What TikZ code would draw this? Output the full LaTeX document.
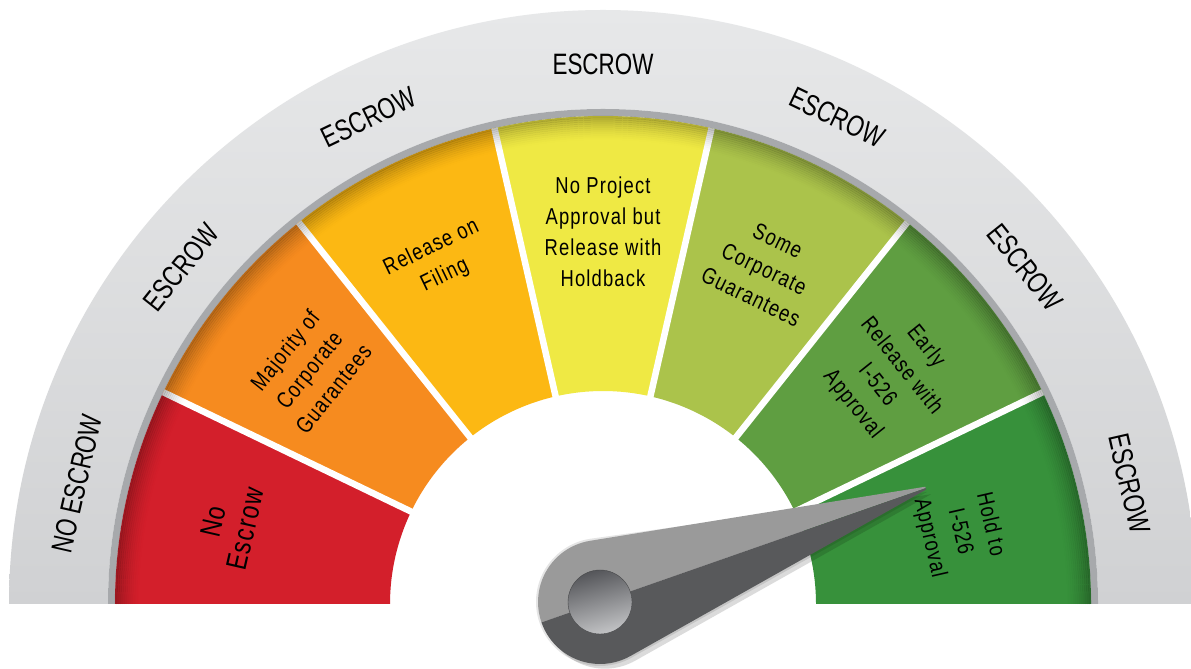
\documentclass[tikz,border=0pt]{standalone}
\usepackage{fontspec}
\setmainfont{Liberation Sans}
\newfontfamily\escfont{Liberation Sans}[FakeStretch=0.76]
\newfontfamily\segfont{Liberation Sans}[FakeStretch=0.8,LetterSpace=5]
\definecolor{cred}{HTML}{D31F2B}
\definecolor{corange}{HTML}{F68B1F}
\definecolor{cyorange}{HTML}{FCB813}
\definecolor{cyellow}{HTML}{EFE944}
\definecolor{clime}{HTML}{ABC34B}
\definecolor{cgreen}{HTML}{5F9E41}
\definecolor{cdgreen}{HTML}{37913B}
\definecolor{bandtop}{HTML}{E7E8E9}
\definecolor{bandbot}{HTML}{D0D1D3}
\definecolor{ringgray}{HTML}{A7A9AC}
\definecolor{needlelight}{HTML}{9A9A9A}
\definecolor{needledark}{HTML}{58595B}
\definecolor{pivtop}{HTML}{55565A}
\definecolor{pivbot}{HTML}{C2C3C5}
\begin{document}
\begin{tikzpicture}[x=1pt,y=1pt,
  escrowlab/.style={font=\escfont\fontsize{29.5}{32}\selectfont, text=black, inner sep=0pt},
  seglab/.style={font=\segfont\fontsize{23}{31}\selectfont, align=center, inner sep=0pt, text=black},
  biglab/.style={font=\segfont\fontsize{29}{33}\selectfont, align=center, inner sep=0pt, text=black}]
\useasboundingbox (0,0) rectangle (1191,669);
\fill[white] (0,0) rectangle (1191,669);
\begin{scope}[shift={(603,65)}]
  % outer gray band
  \shade[top color=bandtop, bottom color=bandbot]
    (0:495pt) arc[start angle=0,end angle=180,radius=495pt]
    -- (180:594pt) arc[start angle=180,end angle=0,radius=594pt] -- cycle;
  % dark ring
  \fill[ringgray] (0:488pt) arc[start angle=0,end angle=180,radius=488pt]
    -- (180:495pt) arc[start angle=180,end angle=0,radius=495pt] -- cycle;
  % coloured segments
  \foreach \col [count=\k from 0] in {cred,corange,cyorange,cyellow,clime,cgreen,cdgreen} {
    \pgfmathsetmacro\sa{180-\k*180/7}
    \pgfmathsetmacro\ea{180-(\k+1)*180/7}
    \fill[\col] (\sa:213pt) arc[start angle=\sa,end angle=\ea,radius=213pt]
      -- (\ea:488pt) arc[start angle=\ea,end angle=\sa,radius=488pt] -- cycle;
  }
  % white gaps
  \foreach \k in {1,...,6} {
    \pgfmathsetmacro\ga{180-\k*180/7}
    \draw[white, line width=6.5pt] (\ga:205pt) -- (\ga:488pt);
  }
  % inner shadow below the ring
  \foreach \i in {0,...,11} {
    \pgfmathsetmacro\rr{487-2*\i}
    \pgfmathsetmacro\op{0.25*(1-\i/12)^1.6}
    \draw[black, opacity=\op, line width=2.2pt] (0:\rr pt) arc[start angle=0,end angle=180,radius=\rr pt];
  }
  % band labels
  \node[escrowlab, rotate=77.143]  (esc1) at (167.143:540pt) {NO ESCROW};
  \node[escrowlab, rotate=51.429]  (esc2) at (141.429:540pt) {ESCROW};
  \node[escrowlab, rotate=25.714]  (esc3) at (115.714:540pt) {ESCROW};
  \node[escrowlab, rotate=0]       (esc4) at (90:540pt) {ESCROW};
  \node[escrowlab, rotate=-25.714] (esc5) at (64.286:540pt) {ESCROW};
  \node[escrowlab, rotate=-51.429] (esc6) at (38.571:540pt) {ESCROW};
  \node[escrowlab, rotate=-77.143] (esc7) at (12.857:540pt) {ESCROW};
  % segment labels
  \node[biglab, rotate=77.143]  (s1) at (168.1:382pt) {No\\Escrow};
  \node[seglab, rotate=51.429]  (s2) at (141.429:376pt) {Majority of\\Corporate\\Guarantees};
  \node[seglab, rotate=25.714]  (s3) at (115.714:380pt) {Release on\\Filing};
  \node[seglab, rotate=0]       (s4) at (90:372pt) {No Project\\Approval but\\Release with\\Holdback};
  \node[seglab, rotate=-25.714] (s5) at (64.286:372pt) {Some\\Corporate\\Guarantees};
  \node[seglab, rotate=-51.429] (s6) at (38.571:366pt) {Early\\Release with\\I-526\\Approval};
  \node[seglab, rotate=-77.143] (s7) at (11.5:364pt) {Hold to\\I-526\\Approval};
\end{scope}
% needle
\begin{scope}[shift={(600,67)}, rotate=19.27]
  \fill[black, opacity=0.10] (345,-4) -- (79.65:64pt) arc[start angle=79.65,end angle=280.35,radius=64pt] -- cycle;
  \begin{scope}[shift={(3,-6)}]
    \fill[black, opacity=0.14] (345,-1.5) -- (79.65:62pt) arc[start angle=79.65,end angle=280.35,radius=62pt] -- cycle;
  \end{scope}
  \fill[needlelight] (345,1.5) -- (79.65:62pt) arc[start angle=79.65,end angle=180,radius=62pt] -- (345,0) -- cycle;
  \fill[needledark] (345,0) -- (180:62pt) arc[start angle=180,end angle=280.35,radius=62pt] -- (345,-1.5) -- cycle;
  \node[circle, minimum size=64pt, inner sep=0pt, top color=pivtop, bottom color=pivbot, shading angle=15, draw=needledark!80!black, line width=0.4pt] (pivot) at (0,0) {};
\end{scope}
\end{tikzpicture}
\end{document}
